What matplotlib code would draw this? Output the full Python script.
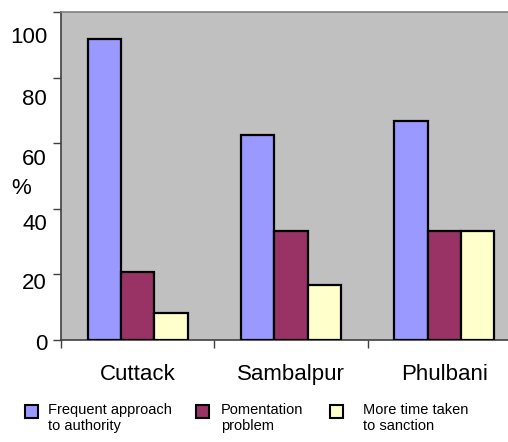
import matplotlib
matplotlib.use("Agg")
import matplotlib.pyplot as plt
from matplotlib.patches import Rectangle
from matplotlib.transforms import ScaledTranslation
import numpy as np

plt.rcParams['font.family'] = ['Liberation Sans', 'DejaVu Sans']

categories = ["Cuttack", "Sambalpur", "Phulbani"]
series_names = ["Frequent approach\nto authority", "Pomentation\nproblem", "More time taken\nto sanction"]
frequent = [91.7, 62.5, 66.7]
pomentation = [20.8, 33.3, 33.3]
more_time = [8.3, 16.7, 33.3]
colors = ["#9999FF", "#993366", "#FFFFCC"]
yticks = [0, 20, 40, 60, 80, 100]

W, H = 508, 442
fig = plt.figure(figsize=(W / 100, H / 100), dpi=100)
ax = fig.add_axes([61 / W, 1 - 340 / H, (W - 61) / W, (340 - 12) / H])
ax.set_facecolor("#C0C0C0")

x = np.arange(len(categories))
bw = 0.217
for i, (vals, c) in enumerate(zip([frequent, pomentation, more_time], colors)):
    ax.bar(x + (i - 1) * bw, vals, width=bw, color=c, edgecolor="black", linewidth=1.6, zorder=3)

ax.set_xlim(-0.5, 2.415)
ax.set_ylim(0, 100)
ax.set_yticks(yticks)
ax.set_yticklabels([str(t) for t in yticks], fontsize=16)
ax.tick_params(axis="y", length=6, width=1, color="#404040", pad=4)
# the reference's tick labels drift below their ticks (Excel-style rendering)
label_drop_px = [1.5, 6.5, 13, 13.5, 19, 23]
for lab, d in zip(ax.get_yticklabels(), label_drop_px):
    lab.set_transform(lab.get_transform() + ScaledTranslation(0, -d / 100, fig.dpi_scale_trans))

ax.set_xticks(x)
ax.set_xticklabels(categories, fontsize=16)
ax.tick_params(axis="x", which="major", length=0, pad=17)
ax.set_xticks([-0.5, 0.5, 1.5], minor=True)
ax.tick_params(axis="x", which="minor", length=6, width=1, color="#404040")

for s in ["left", "bottom"]:
    ax.spines[s].set_color("#404040")
    ax.spines[s].set_linewidth(1.2)
ax.spines["top"].set_color("#808080")
ax.spines["top"].set_linewidth(1.2)
ax.spines["right"].set_visible(False)

ax.set_ylabel("%", rotation=0, fontsize=16, va="center", ha="center")
ax.yaxis.set_label_coords((21 - 61) / (W - 61), (340 - 188) / 328)

# legend
leg_sq_x = [25, 196, 330]
leg_txt_x = [48, 221, 363]
for sx, tx, c, name in zip(leg_sq_x, leg_txt_x, colors, series_names):
    fig.patches.append(Rectangle((sx / W, 1 - 418 / H), 13 / W, 13 / H, transform=fig.transFigure,
                                 facecolor=c, edgecolor="black", linewidth=1.5))
    fig.text(tx / W, 1 - 403 / H, name, fontsize=10.5, va="top", ha="left", linespacing=1.2)

fig.savefig("out.png", dpi=100)
